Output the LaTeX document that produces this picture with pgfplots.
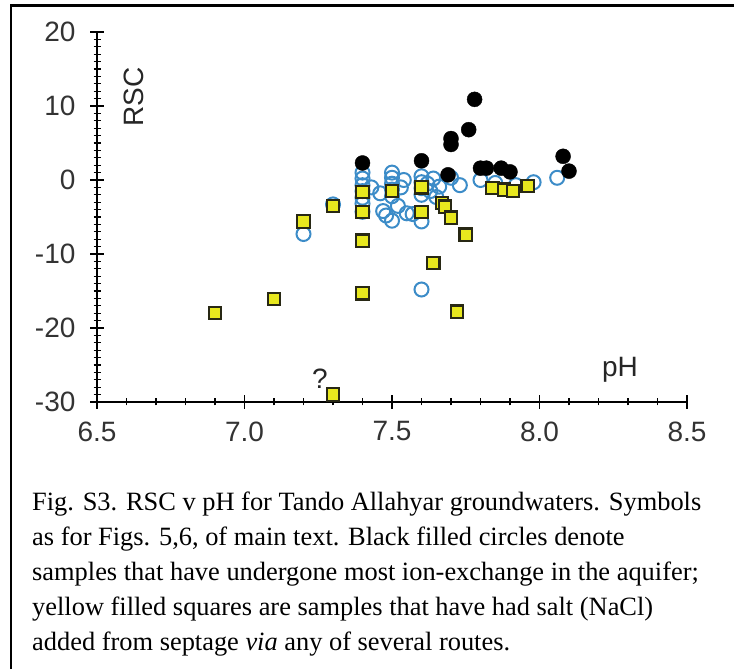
\documentclass[border=0pt]{standalone}
\usepackage{pgfplots}
\pgfplotsset{compat=1.18}
\usepackage{fontspec}
\setmainfont{Liberation Serif}
\newfontfamily\arialf{Liberation Sans}
\definecolor{cblue}{RGB}{60,140,200}
\definecolor{cyel}{RGB}{232,232,30}
\definecolor{cedge}{RGB}{40,40,20}
\begin{document}
\begin{tikzpicture}
\useasboundingbox (0pt,0pt) rectangle (735pt,669pt);
\draw[line width=2.5pt] (10pt,663.5pt) -- (734pt,663.5pt);
\draw[line width=2.5pt] (11pt,0pt) -- (11pt,664.5pt);
\begin{axis}[
  at={(97pt,267pt)}, anchor=south west,
  scale only axis, width=590pt, height=370pt,
  xmin=6.5, xmax=8.5, ymin=-30, ymax=20,
  axis lines=left,
  axis line style={-, line width=1.3pt, black},
  xtick={6.5,7,7.5,8,8.5},
  xticklabels={6.5,7.0,7.5,8.0,8.5},
  ytick={-30,-20,-10,0,10,20},
  yticklabels={-30,-20,-10,0,10,20},
  minor x tick num=4,
  minor y tick num=9,
  tick align=center,
  major tick length=14pt,
  minor tick length=7pt,
  tick style={line width=1.1pt, black},
  ticklabel style={font=\arialf\fontsize{28}{28}\selectfont, text=black!80},
  xticklabel style={yshift=-9pt},
  yticklabel style={xshift=-11pt},
  clip=false,
]
% blue open circles
\addplot[only marks, mark=o, mark size=7pt, mark options={draw=cblue, line width=2pt, fill=none}] coordinates {
(7.2,-7.3) (7.3,-3.3)
(7.4,1.0) (7.4,0.2) (7.4,-0.7) (7.4,-1.5) (7.4,-2.4) (7.4,-3.2) (7.4,-4.3)
(7.43,-1.0) (7.46,-1.8) (7.47,-4.2) (7.48,-4.8)
(7.5,1.0) (7.5,0.3) (7.5,-0.5) (7.5,-1.3) (7.5,-2.2) (7.5,-5.5)
(7.52,-3.5) (7.53,-1.0) (7.54,0.0) (7.55,-4.5) (7.57,-4.6)
(7.6,0.5) (7.6,-0.3) (7.6,-1.1) (7.6,-2.0) (7.6,-5.6) (7.6,-14.8)
(7.62,-0.5) (7.63,-1.5) (7.64,0.2) (7.65,-2.3) (7.66,-0.9)
(7.7,0.3) (7.73,-0.7) (7.8,0.0) (7.85,-0.4) (7.92,-0.7) (7.98,-0.3) (8.06,0.3)
};
% black filled circles
\addplot[only marks, mark=*, mark size=7.5pt, mark options={draw=black, fill=black}] coordinates {
(7.4,2.3) (7.6,2.6) (7.7,5.6) (7.7,4.8) (7.76,6.8) (7.78,10.9)
(7.69,0.7) (7.80,1.6) (7.82,1.6) (7.87,1.6) (7.90,1.1) (8.08,3.2) (8.10,1.2)
};
% yellow squares
\addplot[only marks, mark=square*, mark size=6.2pt, mark options={draw=cedge, fill=cyel, line width=2.2pt}] coordinates {
(6.9,-18) (7.1,-16.1) (7.2,-5.6) (7.3,-3.5) (7.3,-29)
(7.4,-1.6) (7.4,-4.3) (7.4,-8.2) (7.4,-15.3) (7.5,-1.5)
(7.6,-1.0) (7.6,-4.3) (7.64,-11.2) (7.67,-3.1) (7.68,-3.6) (7.7,-5.1)
(7.75,-7.4) (7.72,-17.8) (7.84,-1.1) (7.88,-1.3) (7.91,-1.5) (7.96,-0.8)
};
\node[font=\arialf\fontsize{28}{28}\selectfont, text=black!85, rotate=90] at (axis cs:6.625,11.2) {RSC};
\node[font=\arialf\fontsize{28}{28}\selectfont, text=black!85, anchor=base] at (axis cs:8.273,-26.6) {pH};
\node[font=\arialf\fontsize{28}{28}\selectfont, text=black!85] at (axis cs:7.256,-26.9) {?};
\end{axis}
\begin{scope}[every node/.style={anchor=base west, inner sep=0pt, font=\fontsize{26.4}{26.4}\selectfont}]
\node at (32pt,159pt) {Fig. S3. RSC v pH for Tando Allahyar groundwaters. Symbols};
\node at (32pt,124pt) {as for Figs. 5,6, of main text. Black filled circles denote};
\node at (32pt,89pt) {samples that have undergone most ion-exchange in the aquifer;};
\node at (32pt,54pt) {yellow filled squares are samples that have had salt (NaCl)};
\node at (32pt,19pt) {added from septage \textit{via} any of several routes.};
\end{scope}
\end{tikzpicture}
\end{document}
